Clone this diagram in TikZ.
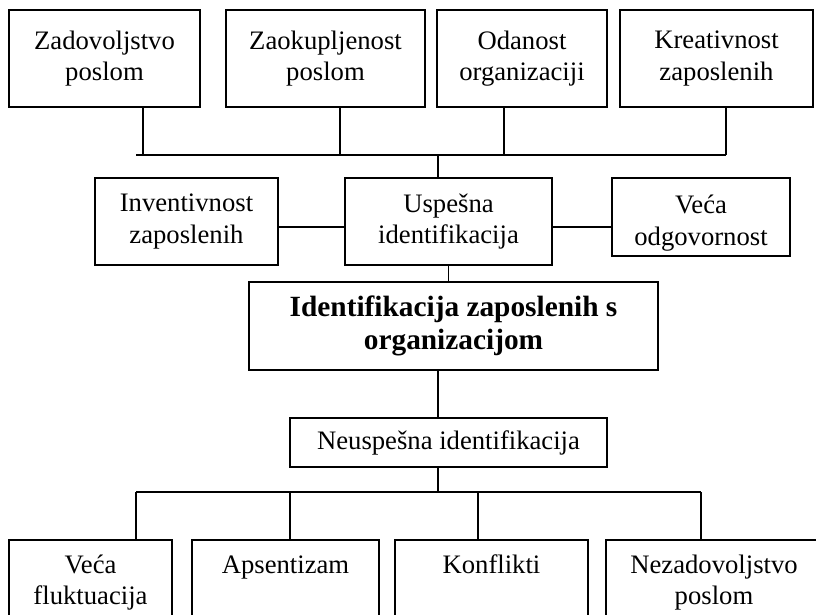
\documentclass[tikz,border=0pt]{standalone}
\usepackage{fontspec}
\setmainfont{Liberation Serif}
\tikzset{box/.style={draw=black, line width=0.5mm, align=center, inner sep=0pt, font=\fontsize{20}{23.5}\selectfont},
  topbox/.style={box, anchor=north, minimum height=105pt},
  toptext/.style={box, draw=none, anchor=base, yshift=-25.5pt},
  toptextii/.style={toptext, yshift=-23.5pt}}

\begin{document}
\begin{tikzpicture}[x=0.75pt, y=-0.75pt]
\useasboundingbox (0,0) rectangle (816,614);
\clip (0,0) rectangle (816,614);
% top row
\node[box, minimum width=143.25pt, minimum height=72.75pt] (zad) at (104.5,58.5) {Zadovoljstvo\\poslom};
\node[box, minimum width=149.25pt, minimum height=72.75pt] (zak) at (325.5,58.5) {Zaokupljenost\\poslom};
\node[box, minimum width=127.5pt, minimum height=72.75pt] (oda) at (522,58.5) {Odanost\\organizaciji};
\node[box, minimum width=144.75pt, minimum height=72.75pt] (kre) at (716.5,58.5) {Kreativnost\\zaposlenih};
% middle row
\node[box, minimum width=137.25pt, minimum height=65.25pt] (inv) at (186.5,221.5) {Inventivnost\\zaposlenih};
\node[box, minimum width=155.25pt, minimum height=65.25pt] (usp) at (448.5,221.5) {Uspešna\\identifikacija};
\node[box, minimum width=133.5pt, minimum height=58.5pt] (odg) at (701,217) {};
\node[box, draw=none] (odgt) at (701,223) {Veća\\odgovornost};
\node[box, minimum width=306.75pt, minimum height=66pt, font=\fontsize{22}{24.75}\selectfont\bfseries] (ide) at (453.5,326) {Identifikacija zaposlenih s\\organizacijom};
\node[box, minimum width=237.75pt, minimum height=36.75pt] (neu) at (448.5,442.5) {Neuspešna identifikacija};
% bottom row
\node[topbox, minimum width=122.25pt, label={[toptextii]north:Veća\\fluktuacija}] (flu) at (90.5,539) {};
\node[topbox, minimum width=140.25pt, label={[toptext]north:Apsentizam}] (aps) at (285.5,539) {};
\node[topbox, minimum width=144.75pt, label={[toptext]north:Konflikti}] (kon) at (491.5,539) {};
\node[topbox, minimum width=162pt, label={[toptextii]north:Nezadovoljstvo\\poslom}] (nez) at (714,539) {};

\coordinate (tl) at (136,155);
\coordinate (t1) at (143,155);
\coordinate (t2) at (340,155);
\coordinate (t3) at (504,155);
\coordinate (t4) at (726,155);
\coordinate (tm) at (438,155);
\draw[black, line width=0.4mm] (tl) -- (t4);
\foreach \c/\n in {t1/zad, t2/zak, t3/oda, t4/kre}{
	\draw[black, line width=0.4mm] (\c) -- (\c |- \n.south);
}
\draw[black, line width=0.4mm] (tm) -- (tm |- usp.north);
\draw[black, line width=0.4mm] ([yshift=-4pt]inv.east) -- ([yshift=-4pt]usp.west);
\draw[black, line width=0.4mm] ([yshift=-4pt]usp.east) -- ([yshift=-4pt]usp.east -| odg.west);
\draw[black, line width=0.4mm] (usp.south) -- (usp.south |- ide.north);

\coordinate (nm) at (438,492);
\draw[black, line width=0.4mm] (nm |- ide.south) -- (nm |- neu.north);
\draw[black, line width=0.4mm] (nm |- neu.south) -- (nm);
\coordinate (u1) at (136,492);
\coordinate (u2) at (290,492);
\coordinate (u3) at (478,492);
\coordinate (u4) at (701,492);
\draw[black, line width=0.4mm] (u1) -- (u4);
\foreach \c/\n in {u1/flu, u2/aps, u3/kon, u4/nez}{
	\draw[black, line width=0.4mm] (\c) -- (\c |- \n.north);
}
\end{tikzpicture}
\end{document}
